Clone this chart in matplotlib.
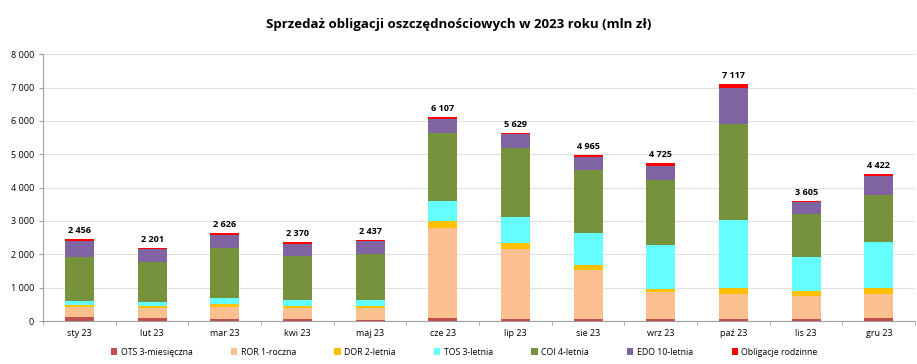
import numpy as np
import matplotlib.pyplot as plt
from matplotlib.ticker import FuncFormatter

plt.rcParams['font.family'] = ['Open Sans', 'DejaVu Sans']

months = ["sty 23", "lut 23", "mar 23", "kwi 23", "maj 23", "cze 23",
          "lip 23", "sie 23", "wrz 23", "paź 23", "lis 23", "gru 23"]

ots = [110, 80, 70, 60, 40, 80, 60, 60, 70, 60, 70, 80]
ror = [310, 310, 350, 340, 350, 2710, 2090, 1460, 800, 750, 670, 730]
dor = [50, 50, 80, 60, 50, 210, 190, 150, 90, 180, 160, 170]
tos = [120, 120, 180, 170, 200, 590, 780, 980, 1320, 2030, 1020, 1390]
coi = [1320, 1200, 1500, 1330, 1380, 2050, 2060, 1880, 1960, 2890, 1290, 1400]
edo = [490, 400, 400, 360, 370, 430, 420, 390, 420, 1080, 350, 590]
rodzinne = [56, 41, 46, 50, 47, 37, 29, 45, 65, 127, 45, 62]
totals = [2456, 2201, 2626, 2370, 2437, 6107, 5629, 4965, 4725, 7117, 3605, 4422]

series = [
    ("OTS 3-miesięczna", ots, "#C0504D"),
    ("ROR 1-roczna", ror, "#FAC090"),
    ("DOR 2-letnia", dor, "#FFC000"),
    ("TOS 3-letnia", tos, "#66FFFF"),
    ("COI 4-letnia", coi, "#76923C"),
    ("EDO 10-letnia", edo, "#8064A2"),
    ("Obligacje rodzinne", rodzinne, "#FF0000"),
]

fig = plt.figure(figsize=(9.17, 3.64), dpi=100)
ax = fig.add_axes([0.047, 0.118, 0.951, 0.733])

x = np.arange(len(months))
bottom = np.zeros(len(months))
for name, vals, col in series:
    ax.bar(x, vals, 0.4, bottom=bottom, color=col, label=name, zorder=3)
    bottom += np.array(vals)

# sumy nad slupkami
for i, t in enumerate(totals):
    ax.text(x[i], bottom[i] + 120, f"{t:,}".replace(",", " "), ha="center", va="bottom",
            fontsize=6.5, fontweight="bold")

ax.set_xlim(-0.5, len(months) - 0.5)
ax.set_ylim(0, 8000)
ax.set_yticks(np.arange(0, 8001, 1000))
ax.yaxis.set_major_formatter(FuncFormatter(lambda v, p: f"{int(v):,}".replace(",", " ")))
ax.set_xticks(x)
ax.set_xticklabels(months)
ax.set_xticks(np.arange(-0.5, len(months), 1), minor=True)
ax.tick_params(axis="x", which="major", length=0, labelsize=6.5, pad=6)
ax.tick_params(axis="x", which="minor", length=3, color="#A0A0A0")
ax.tick_params(axis="y", length=3, color="#A0A0A0", labelsize=6.5)
ax.grid(axis="y", color="#E0E0E0", linewidth=0.8, zorder=0)
for s in ["top", "right"]:
    ax.spines[s].set_visible(False)
ax.spines["left"].set_color("#A0A0A0")
ax.spines["bottom"].set_color("#A0A0A0")

fig.suptitle("Sprzedaż obligacji oszczędnościowych w 2023 roku (mln zł)", y=0.95,
             fontsize=9.5, fontweight="bold")

ax.legend(loc="upper center", bbox_to_anchor=(0.483, -0.07), ncol=7, frameon=False,
          fontsize=6.3, handlelength=0.7, handleheight=0.7, columnspacing=4.4,
          handletextpad=0.4)

plt.savefig("out.png")
